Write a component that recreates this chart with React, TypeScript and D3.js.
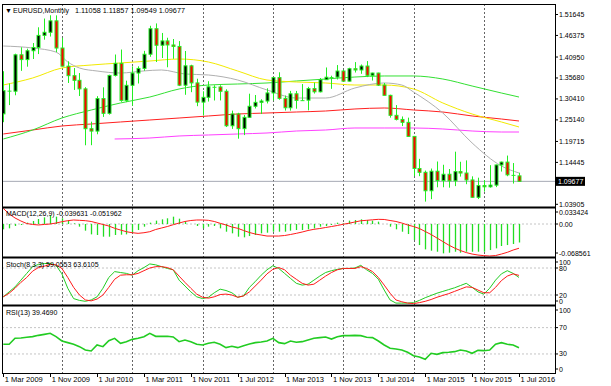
import React from "react";
import * as d3 from "d3";

// EURUSD monthly bars, 1 Mar 2009 .. 1 Jul 2016 (one per month)
const open = [1.2665,1.3249,1.3235,1.4151,1.4030,1.4253,1.4335,1.4639,1.4717,1.5005,
  1.4321,1.3865,1.3626,1.3509,1.3294,1.2292,1.2232,1.3050,1.2678,1.3632,1.3936,1.3004,
  1.3383,1.3692,1.3808,1.4165,1.4807,1.4391,1.4500,1.4398,1.4361,1.3386,1.3874,1.3444,
  1.2961,1.3081,1.3346,1.3342,1.3233,1.2366,1.2663,1.2293,1.2578,1.2856,1.2955,1.2988,
  1.3192,1.3577,1.3055,1.2819,1.3170,1.3004,1.3010,1.3301,1.3220,1.3525,1.3587,1.3590,
  1.3743,1.3488,1.3801,1.3769,1.3868,1.3634,1.3692,1.3389,1.3131,1.2628,1.2525,1.2452,
  1.2098,1.1291,1.1195,1.0731,1.1222,1.0988,1.1146,1.0981,1.1213,1.1177,1.1003,1.0566,
  1.0862,1.0831,1.0873,1.1380,1.1452,1.1131,1.11058];
const high = [1.3738,1.3430,1.4179,1.4339,1.4305,1.4447,1.4843,1.5063,1.5145,1.5143,
  1.4579,1.3987,1.3819,1.3692,1.3337,1.2469,1.3111,1.3333,1.3650,1.4158,1.4283,1.3500,
  1.3860,1.3862,1.4250,1.4881,1.4940,1.4700,1.4580,1.4548,1.4496,1.4247,1.3900,1.3549,
  1.3233,1.3486,1.3385,1.3384,1.3283,1.2747,1.2692,1.2637,1.3172,1.3140,1.3033,1.3308,
  1.3586,1.3711,1.3126,1.3243,1.3242,1.3415,1.3345,1.3452,1.3567,1.3832,1.3625,1.3893,
  1.3775,1.3825,1.3967,1.3907,1.3993,1.3700,1.3700,1.3443,1.3147,1.2886,1.2600,1.2570,
  1.2109,1.1534,1.1238,1.1290,1.1467,1.1385,1.1278,1.1714,1.1460,1.1495,1.1094,1.1060,
  1.1000,1.1375,1.1387,1.1463,1.1616,1.1428,1.11857];
const low = [1.2456,1.2886,1.3133,1.3747,1.3852,1.4045,1.4169,1.4531,1.4610,1.4218,
  1.3859,1.3442,1.3267,1.3114,1.1875,1.1877,1.2152,1.2588,1.2645,1.3605,1.2969,1.2960,
  1.2871,1.3429,1.3750,1.4100,1.3969,1.4070,1.3837,1.4051,1.3364,1.3145,1.3211,1.2858,
  1.2624,1.2975,1.3002,1.3003,1.2334,1.2287,1.2041,1.2131,1.2564,1.2802,1.2661,1.2927,
  1.3001,1.3020,1.2749,1.2746,1.2795,1.2996,1.2754,1.3176,1.3205,1.3521,1.3295,1.3530,
  1.3479,1.3477,1.3705,1.3673,1.3590,1.3503,1.3366,1.3129,1.2570,1.2500,1.2358,1.2097,
  1.1098,1.1098,1.0458,1.0520,1.0818,1.0819,1.0809,1.0848,1.1087,1.0896,1.0557,1.0523,
  1.0709,1.0809,1.0823,1.1214,1.1097,1.0912,1.09549];
const close = [1.3249,1.3235,1.4151,1.4030,1.4253,1.4335,1.4639,1.4717,1.5005,1.4321,
  1.3865,1.3626,1.3509,1.3294,1.2292,1.2232,1.3050,1.2678,1.3632,1.3936,1.3004,1.3383,
  1.3692,1.3808,1.4165,1.4807,1.4391,1.4500,1.4398,1.4361,1.3386,1.3874,1.3444,1.2961,
  1.3081,1.3346,1.3342,1.3233,1.2366,1.2663,1.2293,1.2578,1.2856,1.2955,1.2988,1.3192,
  1.3577,1.3055,1.2819,1.3170,1.3004,1.3010,1.3301,1.3220,1.3525,1.3587,1.3590,1.3743,
  1.3488,1.3801,1.3769,1.3868,1.3634,1.3692,1.3389,1.3131,1.2628,1.2525,1.2452,1.2098,
  1.1291,1.1195,1.0731,1.1222,1.0988,1.1146,1.0981,1.1213,1.1177,1.1003,1.0566,1.0862,
  1.0831,1.0873,1.1380,1.1452,1.1131,1.1106,1.09677];

// moving averages: [bar index, price]
const maGray = [[0,1.4372],[5,1.4322],[9,1.4220],[11,1.3970],[13,1.3819],[16,1.3743],[20,1.3693],
  [24,1.3745],[27,1.3769],[31,1.3668],[35,1.3643],[40,1.3517],[45,1.3266],[50,1.3064],[55,1.3064],
  [60,1.3316],[65,1.3442],[68,1.3391],[70,1.3215],[75,1.2687],[80,1.1933],[85,1.1354],[88,1.1178]];
const maYellow = [[0,1.3391],[5,1.3567],[10,1.3819],[15,1.3894],[20,1.3945],[25,1.3995],[30,1.4045],
  [35,1.3970],[40,1.3743],[45,1.3517],[50,1.3467],[55,1.3442],[60,1.3391],[65,1.3391],[70,1.3291],
  [75,1.2939],[80,1.2662],[85,1.2461],[88,1.2335]];
const maGreen = [[0,1.2033],[5,1.2259],[10,1.2561],[15,1.2762],[20,1.2939],[25,1.3089],[30,1.3291],
  [35,1.3391],[40,1.3416],[45,1.3442],[50,1.3492],[55,1.3542],[60,1.3592],[65,1.3618],[70,1.3618],
  [75,1.3542],[80,1.3366],[85,1.3190],[88,1.3089]];
const maRed = [[0,1.2159],[5,1.2259],[10,1.2360],[15,1.2410],[20,1.2461],[25,1.2511],[30,1.2561],
  [35,1.2612],[40,1.2662],[45,1.2687],[50,1.2712],[55,1.2737],[60,1.2788],[65,1.2813],[70,1.2763],
  [75,1.2712],[80,1.2612],[85,1.2536],[88,1.2486]];
const maMagenta = [[19,1.2033],[25,1.2058],[30,1.2109],[35,1.2134],[40,1.2159],[45,1.2184],
  [50,1.2234],[55,1.2259],[60,1.2310],[65,1.2310],[70,1.2310],[75,1.2285],[80,1.2234],[85,1.2209],[88,1.2209]];

const macdMain = [-0.0114,-0.0093,-0.0043,-0.0021,0.0029,0.0064,0.0107,0.0143,0.0186,0.0157,
  0.0122,0.0072,0.0014,-0.0057,-0.0143,-0.0222,-0.0236,-0.0272,-0.0272,-0.0236,-0.0229,-0.0222,
  -0.0186,-0.0129,-0.0057,0.0029,0.0072,0.0100,0.0122,0.0157,0.0114,0.0057,0.0000,-0.0043,
  -0.0093,-0.0057,-0.0043,-0.0093,-0.0165,-0.0200,-0.0272,-0.0286,-0.0258,-0.0236,-0.0200,-0.0186,
  -0.0165,-0.0165,-0.0165,-0.0143,-0.0129,-0.0129,-0.0114,-0.0093,-0.0057,-0.0043,-0.0021,0.0029,
  0.0014,0.0072,0.0086,0.0100,0.0086,0.0072,0.0050,0.0000,-0.0057,-0.0114,-0.0165,-0.0215,
  -0.0343,-0.0451,-0.0544,-0.0572,-0.0594,-0.0629,-0.0615,-0.0594,-0.0615,-0.0594,-0.0594,-0.0594,
  -0.0594,-0.0558,-0.0522,-0.0472,-0.0451,-0.0429,-0.039631];
const macdSignal = [0.0334,0.0215,0.0129,0.0064,0.0010,-0.0010,-0.0021,-0.0010,0.0000,0.0021,
  0.0049,0.0071,0.0086,0.0079,0.0071,0.0054,0.0021,-0.0010,-0.0043,-0.0092,-0.0129,-0.0165,
  -0.0187,-0.0200,-0.0187,-0.0165,-0.0118,-0.0086,-0.0054,-0.0015,0.0021,0.0054,0.0075,0.0086,
  0.0086,0.0079,0.0054,0.0015,-0.0021,-0.0064,-0.0092,-0.0139,-0.0182,-0.0215,-0.0236,-0.0258,
  -0.0258,-0.0258,-0.0247,-0.0225,-0.0200,-0.0172,-0.0139,-0.0114,-0.0097,-0.0075,-0.0054,-0.0032,
  -0.0006,0.0017,0.0043,0.0069,0.0079,0.0090,0.0100,0.0097,0.0075,0.0054,0.0021,-0.0021,
  -0.0054,-0.0097,-0.0161,-0.0225,-0.0300,-0.0376,-0.0451,-0.0515,-0.0569,-0.0612,-0.0644,-0.0665,
  -0.0678,-0.068561,-0.0676,-0.0644,-0.0607,-0.0558,-0.051962];

const stochMain = [16,27,38,53,68,83,88,90,90,86,
  67,35,12,8,6,9,16,35,59,72,70,68,
  64,74,81,89,87,83,79,76,53,40,27,16,
  12,15,25,33,30,25,15,18,37,50,64,76,
  85,79,68,57,46,42,44,53,62,70,74,77,
  79,79,80,86,76,68,55,31,9,2,2,2,
  3,8,14,19,24,28,32,36,41,46,37,27,
  22,35,53,67,74,68,59.0553];
const stochSignal = [16,24,35,48,59,73,81,84,88,87,
  79,59,37,20,9,7,11,20,37,55,64,65,
  65,68,74,80,83,83,81,76,62,48,35,22,
  15,13,16,21,22,20,15,18,27,40,53,67,
  77,81,76,64,55,46,42,44,53,62,70,76,
  79,79,79,83,79,72,59,42,24,9,5,2,
  1,3,6,10,15,19,23,28,33,38,37,31,
  25,25,37,52,62,67,63.6105];

const rsi = [44.7,44.7,53.8,54.3,55.3,56.3,58.3,59.8,61.4,56.3,
  49.7,47.2,44.7,41.1,36.0,34.5,43.6,41.1,50.2,53.8,46.2,48.7,
  52.2,53.8,56.3,61.4,56.8,56.8,56.8,55.8,48.7,51.2,48.7,44.7,
  43.6,46.2,47.7,44.7,39.6,41.6,39.6,42.6,45.2,47.2,48.2,49.7,
  53.8,47.2,45.7,49.7,47.7,48.7,51.2,53.8,54.8,55.8,52.7,56.3,
  57.8,57.8,58.3,57.8,55.3,54.8,49.7,43.6,38.6,37.5,36.0,32.5,
  27.4,25.4,21.8,31.0,29.4,32.0,32.5,33.5,36.0,34.5,31.0,35.5,
  35.0,36.0,44.7,47.2,44.7,43.6,39.469];

const priceTicks = [1.51645, 1.46375, 1.40950, 1.35680, 1.30410, 1.25140, 1.19715, 1.14445, 1.03905];
const lastPrice = 1.09677;
const macdTicks = [0.033424, 0, -0.068561];
const macdTickLabels = ["0.033424", "0.00", "-0.068561"];
const stochTicks = [100, 80, 20, 0];
const rsiTicks = [100, 70, 30, 0];
const xTickIdx = [0, 8, 16, 24, 32, 40, 48, 56, 64, 72, 80, 88];
const xTickLabels = ["1 Mar 2009", "1 Nov 2009", "1 Jul 2010", "1 Mar 2011", "1 Nov 2011", "1 Jul 2012",
  "1 Mar 2013", "1 Nov 2013", "1 Jul 2014", "1 Mar 2015", "1 Nov 2015", "1 Jul 2016"];
const gridIdx = [10, 22, 34, 46, 58, 70, 82]; // January of each year

const FONT = "Liberation Sans, Arial, sans-serif";
const WICK = "#22ee22";

export default function App() {
  const L = 2, R = 555;
  const panels = {
    main: [4, 207],
    macd: [208, 257],
    stoch: [258, 305],
    rsi: [306, 373],
  };

  const x = d3.scaleLinear().domain([0, 88]).range([3.3, 519]);
  const yP = d3.scaleLinear().domain([1.03905, 1.51645]).range([204.3, 14.5]);
  const yM = d3.scaleLinear().domain([-0.068561, 0.033424]).range([256, 208.4]);
  const yS = d3.scaleLinear().domain([0, 100]).range([304, 259]);
  const yR = d3.scaleLinear().domain([0, 100]).range([373.7, 307.9]);

  const maLine = d3.line<number[]>().x((d) => x(d[0])).y((d) => yP(d[1])).curve(d3.curveMonotoneX);
  const seriesLine = (scale: d3.ScaleLinear<number, number>) =>
    d3.line<number>().x((_, i) => x(i)).y((d) => scale(d));

  const clamp = (v: number, [a, b]: number[]) => Math.max(a + 4, Math.min(b - 4, v));

  // right axis label with a little tick
  const axisLabel = (key: string, yTick: number, yText: number, text: string) => (
    <g key={key}>
      <line x1={R} x2={R + 3} y1={yTick} y2={yTick} stroke="#000" strokeWidth={1} />
      <text x={R + 4} y={yText + 2.5} fontSize={7} fontFamily={FONT} fill="#000">{text}</text>
    </g>
  );

  const yLast = yP(lastPrice);
  const ohlcText = [open[88], high[88], low[88], close[88]].map((v) => v.toFixed(5)).join(" ");

  return (
    <svg width={611} height={386} style={{ position: "absolute", left: 0, top: 0, background: "#fff" }}>
      <defs>
        {Object.entries(panels).map(([k, [t, b]]) => (
          <clipPath id={`clip-${k}`} key={k}>
            <rect x={L} y={t} width={R - L} height={b - t} />
          </clipPath>
        ))}
      </defs>
      <rect x={0} y={0} width={611} height={386} fill="#fff" />

      {/* vertical dotted grid */}
      {gridIdx.map((i) => (
        <line key={`g${i}`} x1={Math.round(x(i)) + 0.5} x2={Math.round(x(i)) + 0.5} y1={4} y2={373}
          stroke="#666" strokeDasharray="2,2" strokeWidth={1} />
      ))}

      {/* level lines */}
      <g stroke="#c4c4c4" strokeDasharray="2,2" strokeWidth={1}>
        <line x1={L} x2={R} y1={yM(0)} y2={yM(0)} />
        <line x1={L} x2={R} y1={yS(80)} y2={yS(80)} />
        <line x1={L} x2={R} y1={yS(20)} y2={yS(20)} />
        <line x1={L} x2={R} y1={yR(70)} y2={yR(70)} />
        <line x1={L} x2={R} y1={yR(30)} y2={yR(30)} />
      </g>

      {/* main panel */}
      <g clipPath="url(#clip-main)">
        <line x1={L} x2={R} y1={yLast} y2={yLast} stroke="#a6a9b4" strokeWidth={1} />
        <path d={maLine(maMagenta) || ""} fill="none" stroke="#ff40ff" strokeWidth={1} />
        <path d={maLine(maRed) || ""} fill="none" stroke="#ff2020" strokeWidth={1} />
        <path d={maLine(maGreen) || ""} fill="none" stroke="#33e033" strokeWidth={1} />
        <path d={maLine(maYellow) || ""} fill="none" stroke="#f2ea00" strokeWidth={1} />
        <path d={maLine(maGray) || ""} fill="none" stroke="#b0b0b0" strokeWidth={1} />
        {open.map((o, i) => {
          const c = close[i];
          const cx = Math.round(x(i));
          const top = yP(Math.max(o, c));
          const bot = yP(Math.min(o, c));
          const h = bot - top;
          return (
            <g key={`c${i}`}>
              <line x1={cx + 0.5} x2={cx + 0.5} y1={yP(high[i])} y2={yP(low[i])} stroke={WICK} strokeWidth={1} />
              {h < 1 ? (
                <line x1={cx - 1.5} x2={cx + 2.5} y1={top + 0.5} y2={top + 0.5} stroke={WICK} strokeWidth={1} />
              ) : (
                <rect x={cx - 1} y={top} width={3} height={h} fill={c > o ? "#000" : "#ff0000"}
                  stroke={WICK} strokeWidth={1} />
              )}
            </g>
          );
        })}
      </g>
      <text x={5} y={13} fontSize={7} fontFamily={FONT} fill="#000">▼</text>
      <text x={13} y={13} fontSize={7} fontFamily={FONT} fill="#000">EURUSD,Monthly</text>
      <text x={75} y={13} fontSize={7} fontFamily={FONT} fill="#000" textLength={110}
        lengthAdjust="spacingAndGlyphs">{ohlcText}</text>

      {/* MACD */}
      <g clipPath="url(#clip-macd)">
        {macdMain.map((v, i) => (
          <line key={`m${i}`} x1={Math.round(x(i)) + 0.5} x2={Math.round(x(i)) + 0.5} y1={yM(0)} y2={yM(v)}
            stroke="#22dd22" strokeWidth={1.3} />
        ))}
        <path d={seriesLine(yM)(macdSignal) || ""} fill="none" stroke="#ff1a1a" strokeWidth={1} />
      </g>
      <text x={6} y={216} fontSize={7} fontFamily={FONT} fill="#000">
        MACD(12,26,9) {macdMain[88].toFixed(6)} {macdSignal[88].toFixed(6)}
      </text>

      {/* Stochastic */}
      <g clipPath="url(#clip-stoch)">
        <path d={seriesLine(yS)(stochMain) || ""} fill="none" stroke="#22cc22" strokeWidth={1} />
        <path d={seriesLine(yS)(stochSignal) || ""} fill="none" stroke="#ff1a1a" strokeWidth={1} />
      </g>
      <text x={6} y={267} fontSize={7} fontFamily={FONT} fill="#000">
        Stoch(8,3,3) {stochMain[88].toFixed(4)} {stochSignal[88].toFixed(4)}
      </text>

      {/* RSI */}
      <g clipPath="url(#clip-rsi)">
        <path d={seriesLine(yR)(rsi) || ""} fill="none" stroke="#22cc22" strokeWidth={1.6} />
      </g>
      <text x={6} y={314.5} fontSize={7} fontFamily={FONT} fill="#000">
        RSI(13) {rsi[88].toFixed(4)}
      </text>

      {/* frame and panel separators */}
      <g stroke="#000">
        <line x1={L} x2={R} y1={4.5} y2={4.5} strokeWidth={1} />
        <line x1={L} x2={R} y1={207.5} y2={207.5} strokeWidth={2} />
        <line x1={L} x2={R} y1={257.5} y2={257.5} strokeWidth={2} />
        <line x1={L} x2={R} y1={305.5} y2={305.5} strokeWidth={2} />
        <line x1={L} x2={R} y1={373.5} y2={373.5} strokeWidth={1} />
        <line x1={L + 0.5} x2={L + 0.5} y1={4} y2={374} strokeWidth={1} />
        <line x1={R + 0.5} x2={R + 0.5} y1={4} y2={374} strokeWidth={1} />
      </g>

      {/* right axes */}
      {priceTicks.map((p) => axisLabel(`p${p}`, yP(p), yP(p), p.toFixed(5)))}
      <rect x={R + 1} y={yLast - 4.5} width={29} height={9} fill="#000" />
      <text x={R + 3} y={yLast + 2.5} fontSize={7} fontFamily={FONT} fill="#fff">{lastPrice.toFixed(5)}</text>
      {macdTicks.map((v, k) => axisLabel(`mt${k}`, clamp(yM(v), panels.macd), clamp(yM(v), panels.macd), macdTickLabels[k]))}
      {stochTicks.map((v) => axisLabel(`st${v}`, clamp(yS(v), panels.stoch), clamp(yS(v), panels.stoch), String(v)))}
      {rsiTicks.map((v) => axisLabel(`rt${v}`, clamp(yR(v), panels.rsi), clamp(yR(v), panels.rsi), String(v)))}

      {/* time axis */}
      {xTickIdx.map((i, k) => (
        <g key={`x${i}`}>
          <line x1={Math.round(x(i)) + 0.5} x2={Math.round(x(i)) + 0.5} y1={373} y2={377} stroke="#000" />
          <text x={x(i) + 1.5} y={382} fontSize={7.5} fontFamily={FONT} fill="#000">{xTickLabels[k]}</text>
        </g>
      ))}
    </svg>
  );
}
